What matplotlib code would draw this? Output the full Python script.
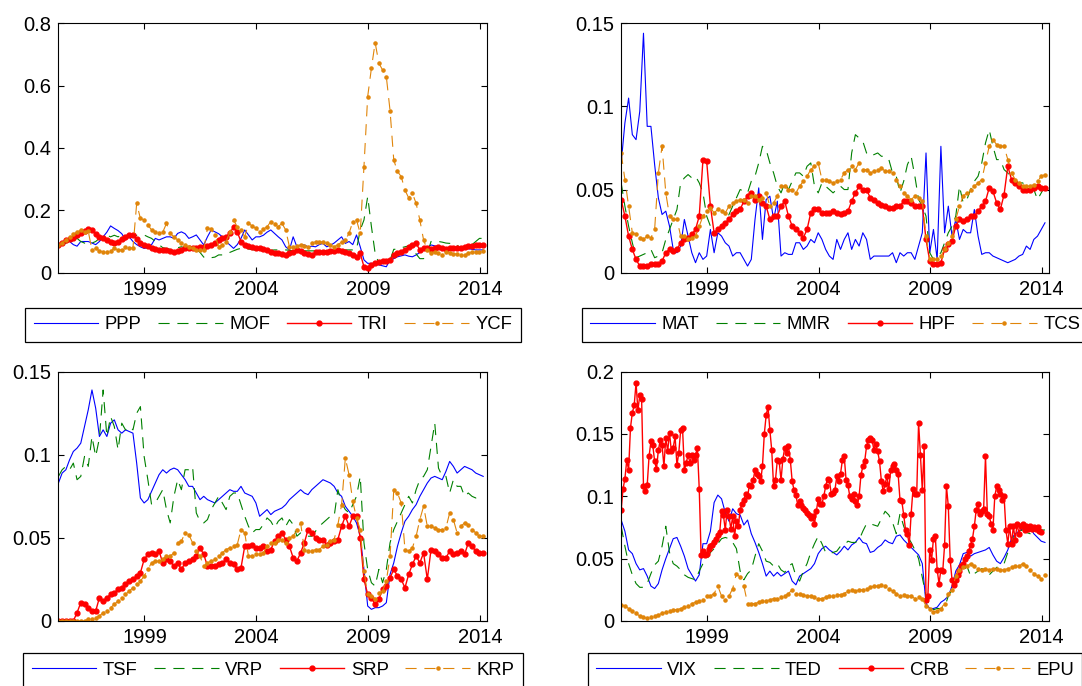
import numpy as np
import matplotlib
matplotlib.use("Agg")
import matplotlib.pyplot as plt
from matplotlib.ticker import FormatStrFormatter

plt.rcParams["font.family"] = ["Liberation Sans", "DejaVu Sans"]
plt.rcParams["font.size"] = 13

# sample starts Feb 1995; series are bi-monthly except CRB (monthly)
start = 1995.15

# ---- top left
ppp = [0.089, 0.095, 0.105, 0.10, 0.09, 0.085,
       0.10, 0.10, 0.10, 0.095, 0.09, 0.10,
       0.115, 0.13, 0.15, 0.142, 0.135, 0.125,
       0.105, 0.115, 0.10, 0.09, 0.083, 0.078,
       0.08, 0.09, 0.11, 0.105, 0.11, 0.115,
       0.115, 0.11, 0.126, 0.131, 0.125, 0.11,
       0.115, 0.121, 0.105, 0.089, 0.115, 0.137,
       0.131, 0.125, 0.115, 0.10, 0.089, 0.078,
       0.09, 0.11, 0.137, 0.121, 0.105, 0.115,
       0.115, 0.12, 0.13, 0.137, 0.126, 0.115,
       0.105, 0.083, 0.073, 0.115, 0.083, 0.089,
       0.089, 0.083, 0.085, 0.083, 0.09, 0.094,
       0.083, 0.088, 0.095, 0.105, 0.115, 0.094,
       0.10, 0.09, 0.121, 0.083, 0.041, 0.03,
       0.03, 0.028, 0.025, 0.022, 0.019, 0.041,
       0.045, 0.051, 0.054, 0.057, 0.053, 0.051,
       0.057, 0.065, 0.073, 0.08, 0.089, 0.086,
       0.083, 0.073, 0.078, 0.078, 0.078, 0.078,
       0.078, 0.077, 0.077, 0.075, 0.073, 0.073,
       0.073]
mof = [0.083, 0.09, 0.095, 0.10, 0.105, 0.11,
       0.10, 0.095, 0.09, 0.095, 0.10, 0.11,
       0.115, 0.12, 0.115, 0.12, 0.115, 0.12,
       0.121, 0.12, 0.115, 0.12, 0.12, 0.121,
       0.115, 0.11, 0.10, 0.09, 0.08, 0.078,
       0.075, 0.075, 0.08, 0.083, 0.08, 0.078,
       0.078, 0.075, 0.065, 0.05, 0.045, 0.048,
       0.05, 0.057, 0.057, 0.06, 0.065, 0.07,
       0.075, 0.078, 0.078, 0.076, 0.074, 0.072,
       0.072, 0.072, 0.07, 0.072, 0.073, 0.073,
       0.073, 0.073, 0.072, 0.07, 0.07, 0.07,
       0.07, 0.07, 0.07, 0.07, 0.07, 0.07,
       0.07, 0.07, 0.071, 0.07, 0.072, 0.073,
       0.073, 0.073, 0.075, 0.137, 0.169, 0.244,
       0.148, 0.062, 0.03, 0.03, 0.03, 0.04,
       0.075, 0.075, 0.08, 0.083, 0.086, 0.089,
       0.06, 0.045, 0.045, 0.06, 0.10, 0.10,
       0.10, 0.098, 0.095, 0.094, 0.094, 0.09,
       0.073, 0.08, 0.085, 0.09, 0.10, 0.11,
       0.11]
tri = [0.089, 0.095, 0.105, 0.108, 0.11, 0.12,
       0.126, 0.133, 0.14, 0.138, 0.125, 0.115,
       0.11, 0.105, 0.098, 0.094, 0.10, 0.108,
       0.115, 0.121, 0.121, 0.107, 0.096, 0.09,
       0.087, 0.078, 0.075, 0.073, 0.072, 0.072,
       0.07, 0.067, 0.068, 0.073, 0.078, 0.078,
       0.078, 0.08, 0.083, 0.083, 0.084, 0.089,
       0.095, 0.105, 0.11, 0.115, 0.126, 0.147,
       0.13, 0.10, 0.089, 0.085, 0.083, 0.08,
       0.078, 0.075, 0.073, 0.065, 0.062, 0.062,
       0.06, 0.057, 0.062, 0.067, 0.073, 0.068,
       0.062, 0.06, 0.057, 0.065, 0.067, 0.067,
       0.067, 0.07, 0.071, 0.073, 0.07, 0.067,
       0.062, 0.057, 0.051, 0.062, 0.019, 0.014,
       0.025, 0.03, 0.035, 0.037, 0.038, 0.041,
       0.057, 0.062, 0.067, 0.073, 0.083, 0.089,
       0.094, 0.073, 0.078, 0.078, 0.077, 0.08,
       0.083, 0.078, 0.077, 0.078, 0.078, 0.078,
       0.08, 0.083, 0.084, 0.086, 0.088, 0.089,
       0.09]
ycf = [0.089, 0.095, 0.105, 0.115, 0.125, 0.13,
       0.137, 0.131, 0.133, 0.073, 0.078, 0.07,
       0.067, 0.067, 0.07, 0.078, 0.073, 0.073,
       0.083, 0.078, 0.08, 0.222, 0.174, 0.169,
       0.153, 0.137, 0.131, 0.126, 0.13, 0.158,
       0.126, 0.115, 0.105, 0.094, 0.088, 0.083,
       0.078, 0.073, 0.073, 0.073, 0.142, 0.14,
       0.121, 0.083, 0.089, 0.10, 0.13, 0.169,
       0.147, 0.137, 0.115, 0.158, 0.15, 0.142,
       0.131, 0.14, 0.147, 0.164, 0.155, 0.148,
       0.158, 0.137, 0.083, 0.083, 0.085, 0.089,
       0.086, 0.083, 0.095, 0.10, 0.10, 0.098,
       0.094, 0.09, 0.083, 0.09, 0.098, 0.105,
       0.126, 0.164, 0.169, 0.126, 0.34, 0.565,
       0.656, 0.738, 0.672, 0.65, 0.629, 0.52,
       0.361, 0.325, 0.308, 0.265, 0.24, 0.255,
       0.222, 0.169, 0.105, 0.073, 0.062, 0.065,
       0.062, 0.057, 0.067, 0.062, 0.06, 0.06,
       0.058, 0.057, 0.062, 0.067, 0.067, 0.067,
       0.068]

# ---- top right
mat = [0.066, 0.09, 0.105, 0.083, 0.08, 0.097,
       0.144, 0.088, 0.088, 0.065, 0.045, 0.035,
       0.037, 0.028, 0.014, 0.012, 0.016, 0.032,
       0.022, 0.012, 0.006, 0.012, 0.008, 0.01,
       0.026, 0.012, 0.024, 0.022, 0.018, 0.016,
       0.01, 0.012, 0.012, 0.008, 0.004, 0.008,
       0.032, 0.051, 0.02, 0.044, 0.046, 0.032,
       0.043, 0.01, 0.012, 0.011, 0.011, 0.018,
       0.018, 0.014, 0.016, 0.02, 0.018, 0.024,
       0.02, 0.014, 0.01, 0.008, 0.02, 0.014,
       0.02, 0.024, 0.014, 0.02, 0.016, 0.024,
       0.02, 0.008, 0.01, 0.01, 0.01, 0.01,
       0.01, 0.012, 0.006, 0.012, 0.01, 0.012,
       0.012, 0.008, 0.016, 0.024, 0.072, 0.012,
       0.026, 0.008, 0.076, 0.024, 0.04, 0.022,
       0.032, 0.02, 0.026, 0.024, 0.024, 0.038,
       0.022, 0.011, 0.012, 0.012, 0.01, 0.009,
       0.008, 0.007, 0.006, 0.007, 0.008, 0.01,
       0.011, 0.016, 0.014, 0.02, 0.022, 0.026,
       0.03]
mmr = [0.054, 0.04, 0.028, 0.018, 0.009, 0.01,
       0.011, 0.012, 0.014, 0.009, 0.01, 0.012,
       0.02, 0.026, 0.032, 0.038, 0.054, 0.057,
       0.059, 0.057, 0.058, 0.054, 0.048, 0.034,
       0.028, 0.027, 0.026, 0.028, 0.03, 0.035,
       0.04, 0.045, 0.05, 0.049, 0.048, 0.055,
       0.058, 0.066, 0.076, 0.074, 0.066, 0.06,
       0.052, 0.048, 0.054, 0.05, 0.055, 0.06,
       0.06, 0.058, 0.064, 0.066, 0.052, 0.048,
       0.054, 0.052, 0.05, 0.048, 0.05, 0.052,
       0.05, 0.05, 0.072, 0.083, 0.081, 0.079,
       0.072, 0.07, 0.071, 0.072, 0.07, 0.07,
       0.068, 0.06, 0.058, 0.048, 0.055, 0.065,
       0.07, 0.058, 0.044, 0.04, 0.034, 0.012,
       0.008, 0.01, 0.012, 0.018, 0.024, 0.028,
       0.034, 0.052, 0.042, 0.044, 0.05, 0.055,
       0.058, 0.066, 0.078, 0.086, 0.076, 0.068,
       0.068, 0.062, 0.06, 0.056, 0.055, 0.054,
       0.054, 0.052, 0.051, 0.05, 0.044, 0.048,
       0.052]
hpf = [0.044, 0.034, 0.022, 0.014, 0.008, 0.004,
       0.004, 0.004, 0.005, 0.005, 0.005, 0.007,
       0.012, 0.014, 0.013, 0.014, 0.018, 0.02,
       0.021, 0.023, 0.026, 0.034, 0.068, 0.067,
       0.04, 0.024, 0.026, 0.028, 0.03, 0.032,
       0.035, 0.037, 0.038, 0.043, 0.046, 0.048,
       0.044, 0.046, 0.042, 0.04, 0.032, 0.034,
       0.034, 0.04, 0.043, 0.034, 0.028, 0.026,
       0.024, 0.021, 0.026, 0.036, 0.038, 0.038,
       0.036, 0.036, 0.036, 0.037, 0.036, 0.035,
       0.036, 0.037, 0.043, 0.048, 0.052, 0.05,
       0.05, 0.045, 0.044, 0.042, 0.041, 0.04,
       0.039, 0.039, 0.04, 0.04, 0.043, 0.043,
       0.042, 0.04, 0.04, 0.04, 0.02, 0.007,
       0.005, 0.005, 0.006, 0.014, 0.017, 0.019,
       0.028, 0.032, 0.031, 0.032, 0.034, 0.034,
       0.037, 0.04, 0.043, 0.051, 0.049, 0.042,
       0.038, 0.047, 0.064, 0.056, 0.054, 0.052,
       0.05, 0.05, 0.05, 0.051, 0.052, 0.051,
       0.051]
tcs = [0.072, 0.056, 0.04, 0.024, 0.023, 0.021,
       0.02, 0.022, 0.021, 0.026, 0.06, 0.076,
       0.048, 0.034, 0.032, 0.032, 0.022, 0.022,
       0.02, 0.021, 0.022, 0.028, 0.034, 0.037,
       0.039, 0.036, 0.038, 0.037, 0.036, 0.04,
       0.042, 0.043, 0.044, 0.044, 0.042, 0.046,
       0.046, 0.044, 0.045, 0.048, 0.04, 0.042,
       0.046, 0.052, 0.052, 0.05, 0.05, 0.048,
       0.052, 0.055, 0.058, 0.062, 0.064, 0.066,
       0.056, 0.056, 0.055, 0.054, 0.055, 0.056,
       0.06, 0.062, 0.064, 0.062, 0.066, 0.062,
       0.062, 0.06, 0.061, 0.062, 0.063, 0.061,
       0.061, 0.06, 0.056, 0.052, 0.048, 0.046,
       0.044, 0.046, 0.045, 0.043, 0.022, 0.008,
       0.008, 0.008, 0.01, 0.014, 0.018, 0.022,
       0.032, 0.04, 0.046, 0.048, 0.05, 0.052,
       0.054, 0.056, 0.066, 0.076, 0.08, 0.077,
       0.076, 0.076, 0.068, 0.06, 0.056, 0.054,
       0.052, 0.052, 0.052, 0.053, 0.055, 0.058,
       0.059]

# ---- bottom left
tsf = [0.083, 0.089, 0.091, 0.097, 0.102, 0.104,
       0.107, 0.117, 0.127, 0.139, 0.128, 0.111,
       0.115, 0.111, 0.119, 0.121, 0.115, 0.113,
       0.115, 0.114, 0.113, 0.095, 0.074, 0.071,
       0.073, 0.078, 0.083, 0.088, 0.091, 0.089,
       0.091, 0.092, 0.091, 0.088, 0.085, 0.081,
       0.081, 0.077, 0.073, 0.075, 0.073, 0.072,
       0.071, 0.073, 0.075, 0.077, 0.079, 0.078,
       0.078, 0.081, 0.077, 0.076, 0.075, 0.071,
       0.063, 0.065, 0.067, 0.064, 0.066, 0.067,
       0.068, 0.07, 0.073, 0.075, 0.077, 0.079,
       0.077, 0.076, 0.079, 0.081, 0.083, 0.085,
       0.084, 0.083, 0.081, 0.077, 0.075, 0.069,
       0.066, 0.063, 0.059, 0.051, 0.031, 0.009,
       0.007, 0.008, 0.008, 0.009, 0.011, 0.028,
       0.035, 0.045, 0.053, 0.06, 0.063, 0.067,
       0.07, 0.075, 0.079, 0.083, 0.086, 0.087,
       0.086, 0.085, 0.09, 0.096, 0.093, 0.089,
       0.091, 0.093, 0.092, 0.091, 0.089, 0.088,
       0.087]
vrp = [0.087, 0.091, 0.093, 0.091, 0.095, 0.085,
       0.087, 0.099, 0.093, 0.111, 0.099, 0.11,
       0.139, 0.111, 0.123, 0.117, 0.103, 0.119,
       0.115, 0.117, 0.115, 0.125, 0.129, 0.099,
       0.085, 0.07, 0.071, 0.075, 0.079, 0.067,
       0.059, 0.075, 0.085, 0.079, 0.091, 0.091,
       0.093, 0.065, 0.06, 0.059, 0.061, 0.067,
       0.071, 0.075, 0.071, 0.067, 0.075, 0.077,
       0.077, 0.07, 0.063, 0.057, 0.053, 0.055,
       0.055, 0.058, 0.062, 0.06, 0.056, 0.06,
       0.062, 0.057, 0.061, 0.058, 0.051, 0.053,
       0.052, 0.051, 0.051, 0.054, 0.057, 0.059,
       0.061, 0.063, 0.063, 0.079, 0.071, 0.067,
       0.065, 0.07, 0.075, 0.087, 0.047, 0.031,
       0.023, 0.021, 0.031, 0.023, 0.031, 0.047,
       0.055, 0.06, 0.065, 0.07, 0.075, 0.071,
       0.079, 0.085, 0.087, 0.091, 0.105, 0.119,
       0.092, 0.087, 0.087, 0.077, 0.085, 0.081,
       0.081, 0.075, 0.077, 0.075, 0.074, 0.075,
       0.076]
srp = [0.0, 0.0, 0.0, 0.0, 0.0, 0.005,
       0.011, 0.01, 0.008, 0.006, 0.006, 0.014,
       0.012, 0.014, 0.016, 0.017, 0.019, 0.02,
       0.022, 0.024, 0.025, 0.027, 0.029, 0.037,
       0.04, 0.041, 0.04, 0.042, 0.035, 0.037,
       0.036, 0.033, 0.035, 0.031, 0.035, 0.036,
       0.037, 0.039, 0.044, 0.04, 0.033, 0.033,
       0.033, 0.034, 0.035, 0.037, 0.035, 0.034,
       0.031, 0.032, 0.045, 0.045, 0.046, 0.044,
       0.044, 0.045, 0.042, 0.043, 0.048, 0.051,
       0.053, 0.049, 0.045, 0.038, 0.036, 0.041,
       0.047, 0.055, 0.053, 0.05, 0.049, 0.049,
       0.046, 0.047, 0.048, 0.049, 0.057, 0.063,
       0.057, 0.063, 0.063, 0.05, 0.025, 0.016,
       0.014, 0.01, 0.013, 0.019, 0.021, 0.026,
       0.031, 0.027, 0.025, 0.02, 0.028, 0.034,
       0.039, 0.035, 0.041, 0.025, 0.043, 0.042,
       0.04, 0.038, 0.038, 0.042, 0.04, 0.041,
       0.042, 0.04, 0.047, 0.045, 0.042, 0.041,
       0.041]
krp = [0.0, 0.0, 0.0, 0.0, 0.0, 0.0,
       0.0, 0.0, 0.001, 0.001, 0.002, 0.003,
       0.005, 0.006, 0.008, 0.01, 0.012, 0.014,
       0.016, 0.018, 0.02, 0.022, 0.024, 0.027,
       0.031, 0.035, 0.036, 0.036, 0.037, 0.039,
       0.039, 0.041, 0.047, 0.048, 0.053, 0.052,
       0.047, 0.042, 0.039, 0.033, 0.035, 0.036,
       0.037, 0.039, 0.041, 0.043, 0.044, 0.045,
       0.046, 0.055, 0.053, 0.039, 0.039, 0.04,
       0.04, 0.041, 0.045, 0.047, 0.047, 0.049,
       0.049, 0.047, 0.05, 0.051, 0.055, 0.059,
       0.043, 0.042, 0.042, 0.043, 0.043, 0.045,
       0.046, 0.048, 0.049, 0.058, 0.07, 0.098,
       0.088, 0.072, 0.062, 0.055, 0.03, 0.016,
       0.015, 0.013, 0.017, 0.018, 0.024, 0.039,
       0.079, 0.077, 0.071, 0.043, 0.042, 0.044,
       0.051, 0.061, 0.069, 0.057, 0.057, 0.056,
       0.055, 0.055, 0.056, 0.065, 0.061, 0.053,
       0.057, 0.059, 0.058, 0.055, 0.053, 0.051,
       0.051]

# ---- bottom right
vix = [0.081, 0.072, 0.057, 0.054, 0.046, 0.041,
       0.042, 0.036, 0.028, 0.026, 0.03, 0.041,
       0.05, 0.058, 0.066, 0.067, 0.06, 0.052,
       0.042, 0.037, 0.032, 0.037, 0.062, 0.062,
       0.072, 0.095, 0.101, 0.098, 0.087, 0.08,
       0.09, 0.086, 0.085, 0.077, 0.081, 0.07,
       0.063, 0.055, 0.046, 0.036, 0.04, 0.036,
       0.039, 0.036, 0.038, 0.04, 0.032, 0.029,
       0.036, 0.038, 0.04, 0.042, 0.046, 0.054,
       0.058, 0.06, 0.057, 0.055, 0.053, 0.056,
       0.06, 0.057, 0.061, 0.063, 0.067, 0.063,
       0.062, 0.055, 0.056, 0.059, 0.061, 0.065,
       0.063, 0.062, 0.068, 0.069, 0.065, 0.062,
       0.059, 0.056, 0.053, 0.046, 0.014, 0.01,
       0.01, 0.011, 0.015, 0.017, 0.02, 0.028,
       0.04, 0.045, 0.054, 0.055, 0.052, 0.054,
       0.055, 0.056, 0.057, 0.059, 0.053, 0.048,
       0.046, 0.051, 0.057, 0.066, 0.07, 0.072,
       0.074, 0.077, 0.075, 0.07, 0.067, 0.064,
       0.063]
ted = [0.076, 0.06, 0.046, 0.037, 0.03, 0.027,
       0.027, 0.03, 0.038, 0.045, 0.048, 0.06,
       0.076, 0.055, 0.046, 0.044, 0.041, 0.037,
       0.035, 0.034, 0.033, 0.04, 0.046, 0.049,
       0.055, 0.058, 0.062, 0.066, 0.067, 0.066,
       0.063, 0.058, 0.04, 0.033, 0.038, 0.041,
       0.052, 0.062, 0.056, 0.048, 0.047, 0.044,
       0.046, 0.041, 0.039, 0.044, 0.046, 0.036,
       0.032, 0.04, 0.046, 0.055, 0.062, 0.068,
       0.062, 0.055, 0.054, 0.055, 0.056, 0.06,
       0.061, 0.064, 0.063, 0.063, 0.065, 0.072,
       0.078, 0.078, 0.077, 0.076, 0.082, 0.088,
       0.085, 0.079, 0.07, 0.086, 0.076, 0.068,
       0.063, 0.057, 0.05, 0.035, 0.02, 0.011,
       0.009, 0.01, 0.01, 0.011, 0.02, 0.025,
       0.03, 0.036, 0.04, 0.044, 0.036, 0.038,
       0.04, 0.042, 0.041, 0.037, 0.04, 0.043,
       0.044, 0.046, 0.055, 0.062, 0.07, 0.072,
       0.073, 0.071, 0.07, 0.069, 0.072, 0.073,
       0.073]
crb = [0.089, 0.106, 0.114, 0.129, 0.121, 0.155, 0.167, 0.173, 0.191, 0.169, 0.181, 0.178,
       0.108, 0.104, 0.109, 0.132, 0.144, 0.141, 0.128, 0.122, 0.137, 0.145, 0.141, 0.124,
       0.147, 0.136, 0.151, 0.136, 0.139, 0.148, 0.125, 0.135, 0.153, 0.155, 0.121, 0.127,
       0.133, 0.127, 0.133, 0.129, 0.133, 0.139, 0.106, 0.053, 0.056, 0.053, 0.054, 0.058,
       0.06, 0.061, 0.063, 0.066, 0.069, 0.071, 0.088, 0.085, 0.073, 0.089, 0.084, 0.074,
       0.084, 0.068, 0.08, 0.076, 0.089, 0.094, 0.097, 0.102, 0.10, 0.109, 0.108, 0.113,
       0.121, 0.118, 0.116, 0.112, 0.124, 0.15, 0.165, 0.172, 0.153, 0.137, 0.108, 0.113,
       0.129, 0.128, 0.113, 0.13, 0.139, 0.135, 0.14, 0.129, 0.112, 0.105, 0.101, 0.093,
       0.096, 0.093, 0.091, 0.089, 0.087, 0.085, 0.083, 0.084, 0.078, 0.088, 0.098, 0.094,
       0.094, 0.10, 0.108, 0.114, 0.113, 0.102, 0.103, 0.105, 0.116, 0.112, 0.118, 0.129,
       0.132, 0.113, 0.109, 0.10, 0.098, 0.102, 0.096, 0.093, 0.10, 0.117, 0.124, 0.128,
       0.14, 0.145, 0.147, 0.145, 0.137, 0.142, 0.136, 0.128, 0.112, 0.104, 0.11, 0.116,
       0.106, 0.121, 0.124, 0.126, 0.121, 0.118, 0.097, 0.096, 0.085, 0.073, 0.07, 0.061,
       0.086, 0.106, 0.102, 0.102, 0.159, 0.133, 0.105, 0.14, 0.017, 0.02, 0.057, 0.049,
       0.066, 0.068, 0.041, 0.03, 0.041, 0.04, 0.061, 0.108, 0.092, 0.049, 0.033, 0.029,
       0.033, 0.037, 0.04, 0.044, 0.046, 0.05, 0.052, 0.056, 0.061, 0.066, 0.076, 0.089,
       0.094, 0.086, 0.088, 0.09, 0.132, 0.086, 0.084, 0.078, 0.073, 0.10, 0.108, 0.105,
       0.102, 0.097, 0.10, 0.073, 0.062, 0.076, 0.062, 0.076, 0.065, 0.078, 0.07, 0.076,
       0.078, 0.073, 0.076, 0.074, 0.076, 0.074, 0.075, 0.074, 0.075, 0.072, 0.071]
epu = [0.013, 0.012, 0.01, 0.008, 0.006, 0.004,
       0.003, 0.002, 0.003, 0.004, 0.005, 0.006,
       0.007, 0.008, 0.009, 0.009, 0.01, 0.011,
       0.012, 0.014, 0.015, 0.016, 0.017, 0.02,
       0.02, 0.022, 0.028, 0.02, 0.017, 0.02,
       0.026, 0.038, 0.035, 0.028, 0.014, 0.014,
       0.014, 0.015, 0.016, 0.016, 0.017, 0.018,
       0.018, 0.019, 0.02, 0.022, 0.025, 0.022,
       0.022, 0.021, 0.02, 0.02, 0.019, 0.018,
       0.018, 0.019, 0.02, 0.02, 0.021, 0.021,
       0.022, 0.024, 0.025, 0.024, 0.025, 0.025,
       0.026, 0.027, 0.028, 0.028, 0.029, 0.028,
       0.026, 0.024, 0.022, 0.02, 0.021, 0.02,
       0.02, 0.018, 0.019, 0.018, 0.012, 0.01,
       0.007, 0.008, 0.01, 0.014, 0.022, 0.025,
       0.036, 0.041, 0.043, 0.044, 0.046, 0.044,
       0.042, 0.041, 0.042, 0.041, 0.042, 0.042,
       0.041, 0.041, 0.042, 0.043, 0.044, 0.044,
       0.046, 0.044, 0.041, 0.038, 0.036, 0.034,
       0.037]


def dates(values, per_year):
    return start + np.arange(len(values)) / per_year


styles = [
    dict(color="#0000ff", lw=0.8),
    dict(color="#008000", lw=0.8, dashes=(10, 7)),
    dict(color="#ff0000", lw=1.0, marker=".", ms=7),
    dict(color="#e0850a", lw=0.8, dashes=(10, 7), marker=".", ms=4.5),
]

panels = [
    ([0.054, 0.6025, 0.3965, 0.3636], [(ppp, 6), (mof, 6), (tri, 6), (ycf, 6)],
     ["PPP", "MOF", "TRI", "YCF"], [0, 0.2, 0.4, 0.6, 0.8], -0.1415),
    ([0.5741, 0.6025, 0.3956, 0.3636], [(mat, 6), (mmr, 6), (hpf, 6), (tcs, 6)],
     ["MAT", "MMR", "HPF", "TCS"], [0, 0.05, 0.1, 0.15], -0.1415),
    ([0.054, 0.0948, 0.3965, 0.3634], [(tsf, 6), (vrp, 6), (srp, 6), (krp, 6)],
     ["TSF", "VRP", "SRP", "KRP"], [0, 0.05, 0.1, 0.15], -0.1296),
    ([0.5741, 0.0948, 0.3956, 0.3634], [(vix, 6), (ted, 6), (crb, 12), (epu, 6)],
     ["VIX", "TED", "CRB", "EPU"], [0, 0.05, 0.1, 0.15, 0.2], -0.1296),
]

fig = plt.figure(figsize=(10.82, 6.86), dpi=100)

for rect, series, labels, yticks, leg_y in panels:
    ax = fig.add_axes(rect)
    for (vals, per_year), label, st in zip(series, labels, styles):
        ax.plot(dates(vals, per_year), vals, label=label, **st)
    ax.set_xlim(1995.15, 2014.34)
    ax.set_ylim(yticks[0], yticks[-1])
    ax.set_xticks([1999, 2004, 2009, 2014])
    ax.set_yticks(yticks)
    ax.yaxis.set_major_formatter(FormatStrFormatter("%g"))
    ax.tick_params(direction="in", top=True, right=True, length=4,
                   width=0.8, labelsize=14.5, pad=5)
    for sp in ax.spines.values():
        sp.set_linewidth(0.8)
    leg = ax.legend(loc="upper center", bbox_to_anchor=(0.5, leg_y), ncol=4,
                    fancybox=False, edgecolor="black", framealpha=1,
                    borderaxespad=0, handlelength=3.5, handletextpad=0.35,
                    columnspacing=0.9, borderpad=0.45, fontsize=13.3)
    leg.get_frame().set_linewidth(0.9)

fig.savefig("out.png", dpi=100)
